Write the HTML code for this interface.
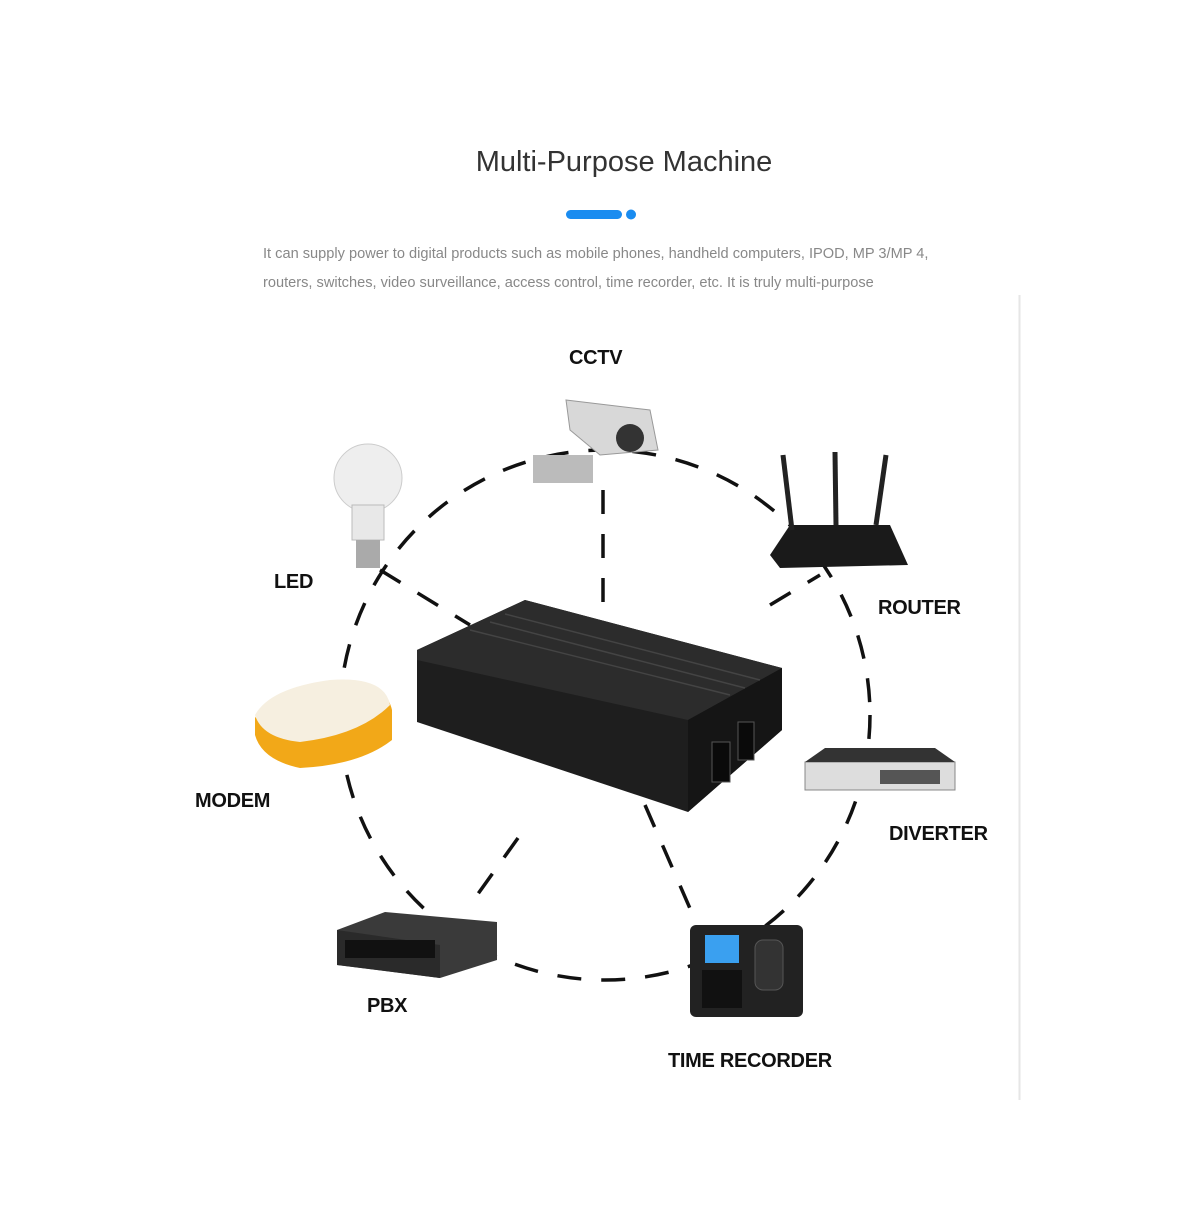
<!DOCTYPE html>
<html><head><meta charset="utf-8"><style>
body{margin:0;background:#fff;width:1200px;height:1200px;overflow:hidden;font-family:"Liberation Sans",sans-serif}
</style></head><body>
<svg width="1200" height="1200" viewBox="0 0 1200 1200" xmlns="http://www.w3.org/2000/svg">
<rect width="1200" height="1200" fill="#fff"/>
<text x="624" y="171" text-anchor="middle" font-family="Liberation Sans" font-size="29" fill="#333">Multi-Purpose Machine</text>
<rect x="566" y="210" width="56" height="9" rx="4.5" fill="#1a8cf0"/>
<circle cx="631" cy="214.5" r="5" fill="#1a8cf0"/>
<text x="263" y="258" font-family="Liberation Sans" font-size="14.6" fill="#888">It can supply power to digital products such as mobile phones, handheld computers, IPOD, MP 3/MP 4,</text>
<text x="263" y="287" font-family="Liberation Sans" font-size="14.6" fill="#888">routers, switches, video surveillance, access control, time recorder, etc. It is truly multi-purpose</text>
<line x1="1019.5" y1="295" x2="1019.5" y2="1100" stroke="#e6e6e6" stroke-width="2"/>
<g fill="none" stroke="#111" stroke-width="3.5" stroke-dasharray="24 20">
<circle cx="605" cy="715" r="265"/>
<line x1="603" y1="490" x2="603" y2="615"/>
<line x1="380" y1="570" x2="470" y2="625"/>
<line x1="770" y1="605" x2="820" y2="575"/>
<line x1="518" y1="838" x2="470" y2="905"/>
<line x1="645" y1="805" x2="695" y2="920"/>
</g>
<polygon points="417,650 525,600 782,668 782,730 688,812 417,722" fill="#1e1e1e"/>
<polygon points="417,650 525,600 782,668 688,720 417,660" fill="#2c2c2c"/>
<polygon points="688,720 782,668 782,730 688,812" fill="#151515"/>
<g stroke="#444" stroke-width="1.5"><line x1="470" y1="630" x2="730" y2="695"/><line x1="490" y1="622" x2="745" y2="688"/><line x1="505" y1="614" x2="760" y2="680"/></g>
<rect x="712" y="742" width="18" height="40" fill="#0a0a0a" stroke="#555"/>
<rect x="738" y="722" width="16" height="38" fill="#0a0a0a" stroke="#555"/>
<rect x="533" y="455" width="60" height="28" fill="#bbb"/>
<polygon points="566,400 650,410 658,450 600,455 570,430" fill="#d8d8d8" stroke="#999"/>
<circle cx="630" cy="438" r="14" fill="#333"/>
<circle cx="368" cy="478" r="34" fill="#eee" stroke="#ccc"/>
<rect x="352" y="505" width="32" height="35" fill="#e8e8e8" stroke="#bbb"/>
<rect x="356" y="540" width="24" height="28" fill="#aaa"/>
<polygon points="770,555 790,525 890,525 908,565 780,568" fill="#1a1a1a"/>
<g stroke="#222" stroke-width="5"><line x1="783" y1="455" x2="792" y2="530"/><line x1="835" y1="452" x2="836" y2="525"/><line x1="886" y1="455" x2="876" y2="525"/></g>
<path d="M255,718 Q270,690 330,682 Q385,678 392,710 L392,740 Q360,765 300,768 Q262,760 255,735 Z" fill="#f2a818"/>
<path d="M255,715 Q270,688 330,680 Q385,676 390,705 Q360,735 300,742 Q262,738 255,715 Z" fill="#f6efe0"/>
<rect x="805" y="762" width="150" height="28" fill="#ddd" stroke="#888"/>
<polygon points="805,762 825,748 935,748 955,762" fill="#333"/>
<rect x="880" y="770" width="60" height="14" fill="#555"/>
<polygon points="337,930 385,912 497,922 497,960 440,978 337,965" fill="#3a3a3a"/>
<polygon points="337,930 440,945 440,978 337,965" fill="#2a2a2a"/>
<rect x="345" y="940" width="90" height="18" fill="#111"/>
<rect x="690" y="925" width="113" height="92" rx="6" fill="#222"/>
<rect x="705" y="935" width="34" height="28" fill="#3aa0f0"/>
<rect x="755" y="940" width="28" height="50" rx="8" fill="#333" stroke="#555"/>
<rect x="702" y="970" width="40" height="38" fill="#111"/>
<g font-family="Liberation Sans" font-weight="bold" font-size="20" fill="#111" letter-spacing="-0.3">
<text x="569" y="364">CCTV</text>
<text x="274" y="588">LED</text>
<text x="878" y="614">ROUTER</text>
<text x="195" y="807">MODEM</text>
<text x="889" y="840">DIVERTER</text>
<text x="367" y="1012">PBX</text>
<text x="668" y="1067">TIME RECORDER</text>
</g>
</svg>
</body></html>
